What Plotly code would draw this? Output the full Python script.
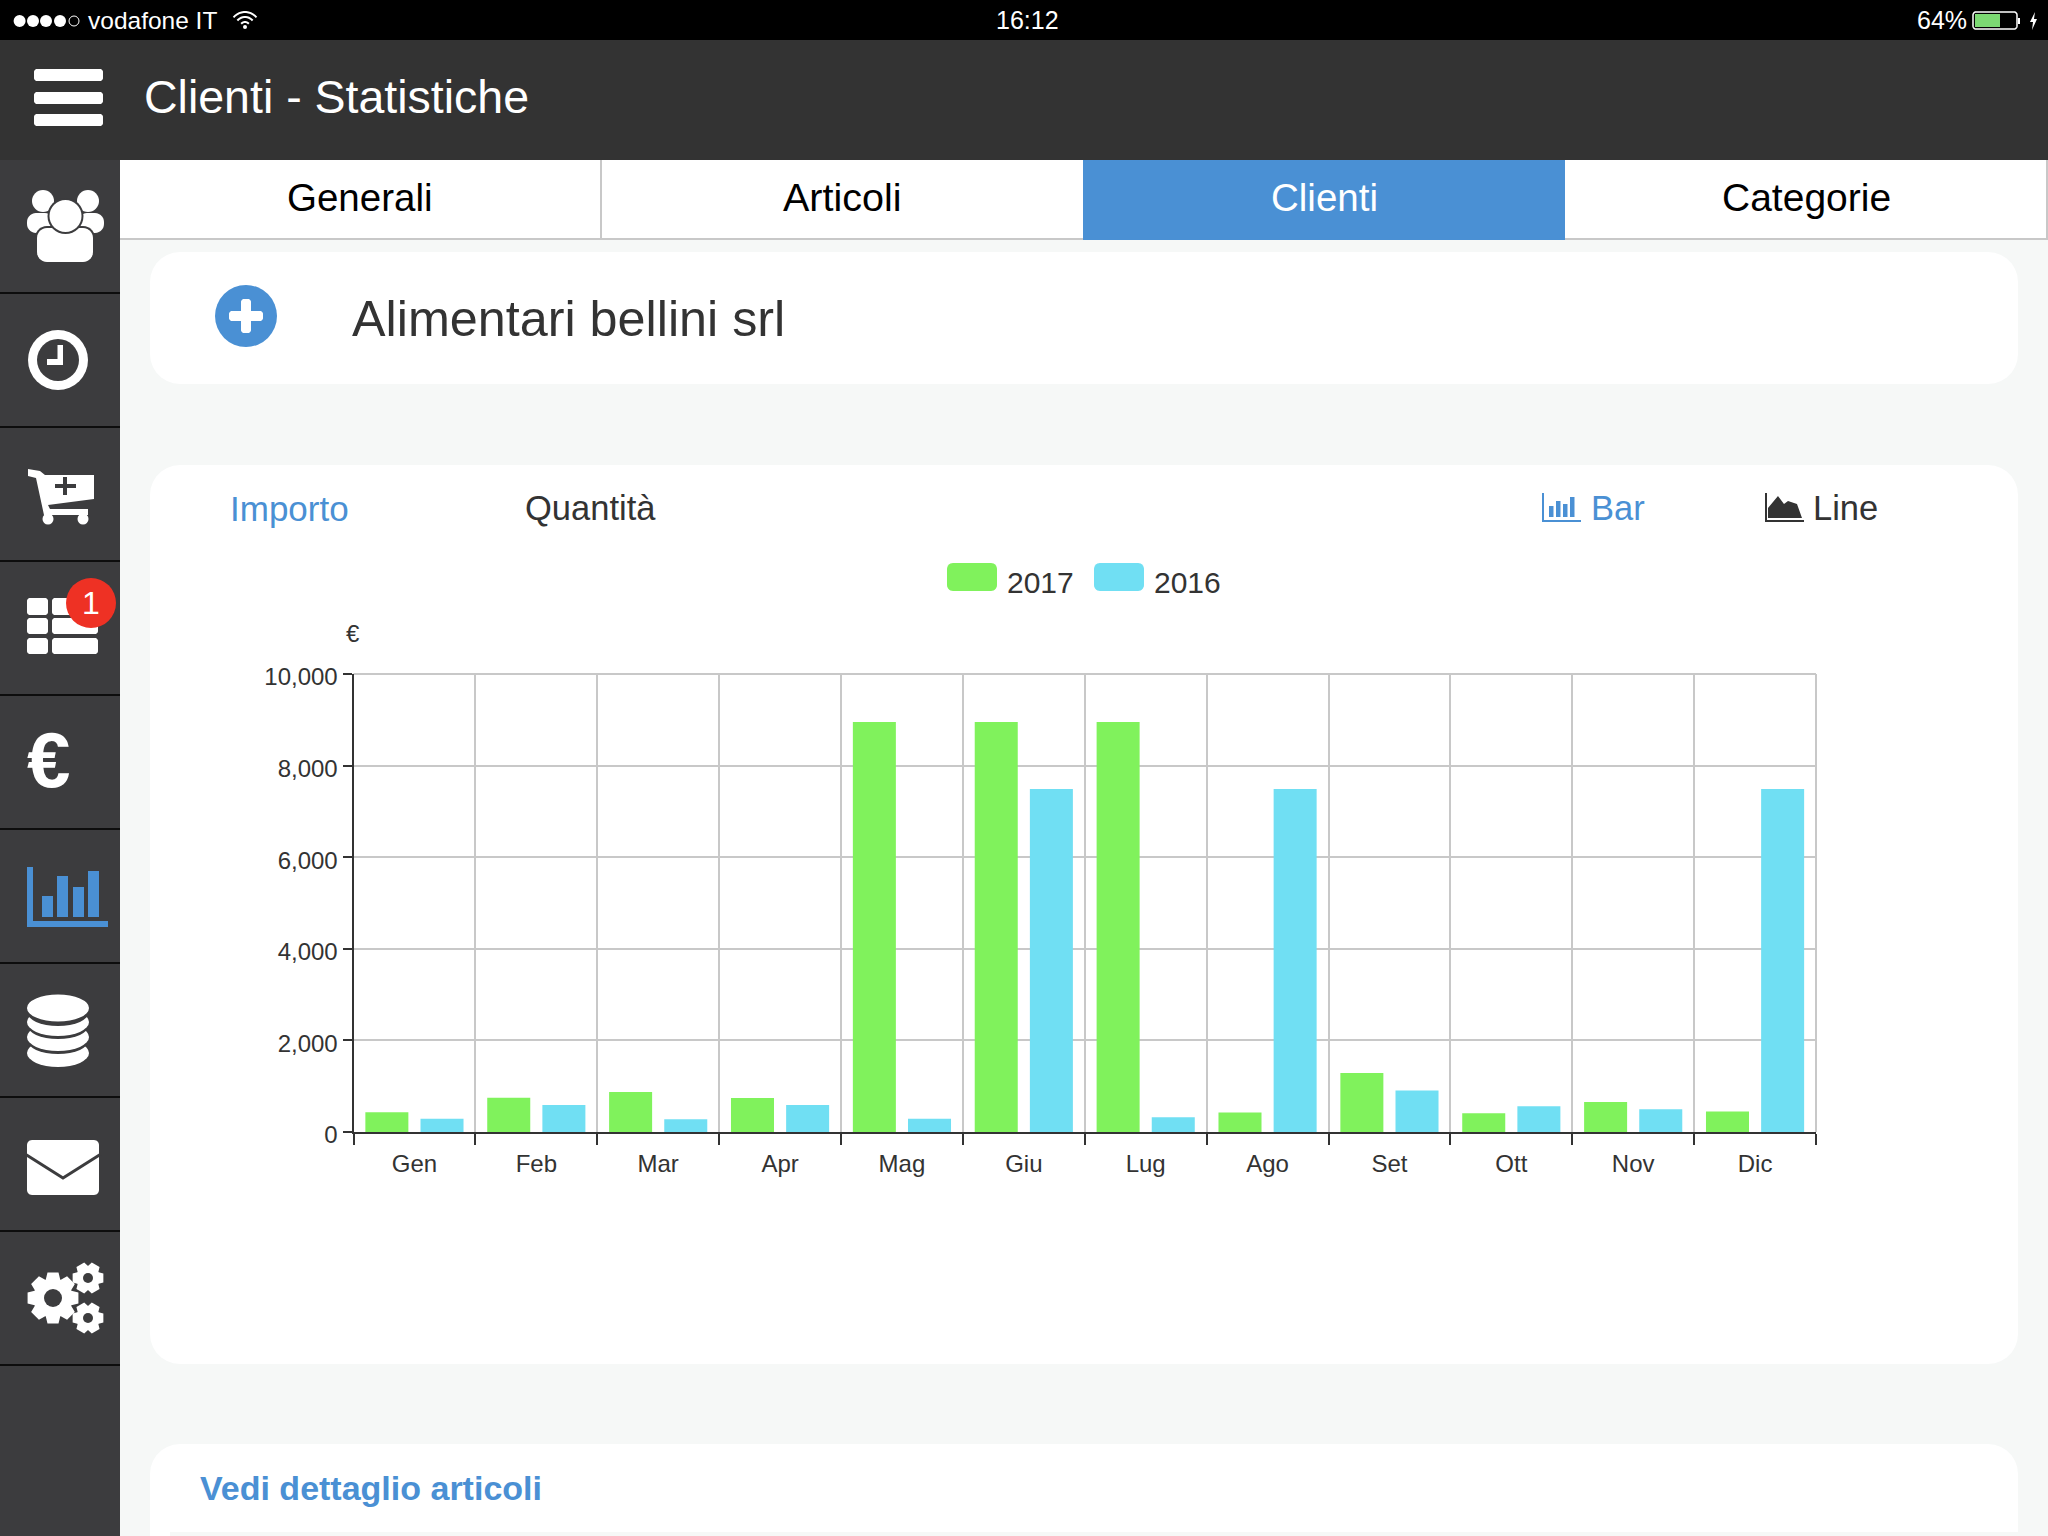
import numpy as np
import plotly.graph_objects as go

W, H = 2048, 1536
FONT = "Liberation Sans"
DARK = "#333333"
SIDE = "#3c3c3e"
BLUE = "#4a90d4"
GREEN = "#80f25c"
CYAN = "#70dff3"
PAGE = "#f6f8f7"

mesi = ["Gen", "Feb", "Mar", "Apr", "Mag", "Giu", "Lug", "Ago", "Set", "Ott", "Nov", "Dic"]
y2017 = [430, 750, 875, 740, 8950, 8950, 8950, 425, 1290, 410, 655, 450]
y2016 = [290, 590, 280, 590, 290, 7490, 320, 7490, 905, 560, 495, 7490]


# screen pixels -> paper coordinates, everything in the app chrome is placed in pixels
def px(x):
    return x / W


def py(y):
    return 1 - y / H


shapes = []
annotations = []


def path(d, color, line=None, lw=0):
    shapes.append(dict(type="path", path=d, xref="paper", yref="paper", layer="below",
                       fillcolor=color if color else "rgba(0,0,0,0)",
                       line=dict(color=line or "rgba(0,0,0,0)", width=lw)))


def poly(pts, color, closed=True, line=None, lw=0):
    d = "M " + " L ".join(f"{px(x):.5f},{py(y):.5f}" for x, y in pts)
    path(d + (" Z" if closed else ""), color, line, lw)


def rect(x0, y0, x1, y1, color):
    shapes.append(dict(type="rect", xref="paper", yref="paper", layer="below",
                       x0=px(x0), x1=px(x1), y0=py(y1), y1=py(y0),
                       fillcolor=color, line=dict(width=0)))


def rrect(x0, y0, x1, y1, r, color, line=None, lw=0):
    pts = []
    corners = [(x1 - r, y0 + r, -90), (x1 - r, y1 - r, 0), (x0 + r, y1 - r, 90), (x0 + r, y0 + r, 180)]
    for cx, cy, start in corners:
        for a in np.radians(np.linspace(start, start + 90, 8)):
            pts.append((cx + r * np.cos(a), cy + r * np.sin(a)))
    poly(pts, color, line=line, lw=lw)


def ellipse(cx, cy, rx, ry, color, line=None, lw=0):
    shapes.append(dict(type="circle", xref="paper", yref="paper", layer="below",
                       x0=px(cx - rx), x1=px(cx + rx), y0=py(cy + ry), y1=py(cy - ry),
                       fillcolor=color if color else "rgba(0,0,0,0)",
                       line=dict(color=line or "rgba(0,0,0,0)", width=lw)))


def gear(cx, cy, r, hole, teeth, color, back):
    pts = []
    step = 2 * np.pi / teeth
    for i in range(teeth):
        a = i * step
        for da, rr in [(-0.30, 0.76), (-0.17, 1.0), (0.17, 1.0), (0.30, 0.76)]:
            pts.append((cx + r * rr * np.cos(a + da * step * 1.6), cy + r * rr * np.sin(a + da * step * 1.6)))
    poly(pts, color)
    ellipse(cx, cy, hole, hole, back)


def text(x, y, s, size, color=DARK, anchor="left", bold=False):
    annotations.append(dict(x=px(x), y=py(y), xref="paper", yref="paper", text=f"<b>{s}</b>" if bold else s,
                            showarrow=False, xanchor=anchor, yanchor="middle", borderpad=0, borderwidth=0,
                            font=dict(family=FONT, size=size, color=color)))


# status bar and header
rect(0, 0, W, 40, "#000000")
rect(0, 40, W, 160, DARK)
for i, cx in enumerate([19.6, 33, 46, 60, 74]):
    if i < 4:
        ellipse(cx, 21, 6, 6, "#ffffff")
    else:
        ellipse(cx, 21, 5, 5, None, "#ffffff", 1)
text(88, 20, "vodafone IT", 24.5, "#ffffff")
for r, w in [(15, 2), (10, 2), (5, 2)]:
    a = np.radians(np.linspace(-140, -40, 12))
    poly([(245 + r * np.cos(t), 27 + r * np.sin(t)) for t in a], None, closed=False, line="#ffffff", lw=w)
ellipse(245, 27, 2, 2, "#ffffff")
text(1027, 20, "16:12", 25, "#ffffff", "center")
text(1917, 20, "64%", 25, "#ffffff")
rrect(1973, 12, 2017, 29, 3, None, "#ffffff", 1.5)
rect(1975, 14, 2000, 27, "#7cd973")
rect(2018, 18, 2020, 24, "#ffffff")
poly([(2035, 12), (2030, 22), (2033, 22), (2032, 30), (2037, 19), (2034, 19)], "#ffffff")
for y0 in (69, 92, 114):
    rrect(34, y0, 103, y0 + 12, 3, "#ffffff")
text(144, 97, "Clienti - Statistiche", 46.5, "#ffffff")

# sidebar
rect(0, 160, 120, H, SIDE)
for y in (293, 427, 561, 695, 829, 963, 1097, 1231, 1365):
    rect(0, y - 1, 120, y + 1, "#0d0d0d")

# users
rrect(27, 213, 54, 233, 9, "#ffffff")
rrect(78, 213, 104, 233, 9, "#ffffff")
ellipse(43, 201, 11, 11, "#ffffff")
ellipse(88, 201, 11, 11, "#ffffff")
rrect(35, 226, 95, 264, 12, SIDE)
rrect(37, 228, 93, 262, 10, "#ffffff")
ellipse(65.5, 216, 18, 18, SIDE)
ellipse(65.5, 216, 16, 16, "#ffffff")
# clock
ellipse(58, 360, 30, 30, "#ffffff")
ellipse(58, 360, 21, 21, SIDE)
rect(57.5, 345, 63, 365, "#ffffff")
rect(47, 359, 63, 365, "#ffffff")
# cart
poly([(28, 469), (40, 471), (45, 475), (94, 475), (94, 499), (48, 505), (50, 509), (88, 509), (88, 515),
      (44, 515), (36, 478), (28, 476)], "#ffffff")
rect(55, 484, 76, 488, SIDE)
rect(63, 477, 67, 495, SIDE)
ellipse(48, 519, 5.5, 5.5, "#ffffff")
ellipse(83, 519, 5.5, 5.5, "#ffffff")
# table with badge
for y0, y1 in [(598, 615), (618, 634), (638, 654)]:
    rrect(27, y0, 48, y1, 3, "#ffffff")
    rrect(52, y0, 98, y1, 3, "#ffffff")
ellipse(91, 603, 25, 25, "#ee3124")
text(91, 603, "1", 32, "#ffffff", "center")
text(48, 760, "€", 78, "#ffffff", "center", bold=True)
# chart icon
rect(27, 867, 33, 927, BLUE)
rect(27, 921, 108, 927, BLUE)
for x0, y0 in [(42, 896), (57, 876), (73, 887), (88, 871)]:
    rect(x0, y0, x0 + 11, 917, BLUE)
# database
ellipse(58, 1053, 31, 14, "#ffffff")
for cy in (1037, 1022):
    ellipse(58, cy + 3, 31, 14, SIDE)
    ellipse(58, cy, 31, 14, "#ffffff")
ellipse(58, 1012, 31, 14, SIDE)
ellipse(58, 1008, 31, 13.5, "#ffffff")
# mail
rrect(27, 1140, 99, 1195, 5, "#ffffff")
poly([(25, 1154), (63, 1178), (101, 1154)], None, closed=False, line=SIDE, lw=3)
# gears
gear(53, 1298, 26, 9, 8, "#ffffff", SIDE)
gear(88, 1278, 16, 5, 6, "#ffffff", SIDE)
gear(88, 1318, 16, 5, 6, "#ffffff", SIDE)

# tabs
rect(120, 160, W, 238, "#ffffff")
rect(120, 238, W, 240, "#c8c8c8")
rect(600, 160, 602, 240, "#c8c8c8")
rect(1083, 160, 1565, 240, BLUE)
rect(2046, 160, 2048, 240, "#c8c8c8")
text(360, 197, "Generali", 38.5, "#000000", "center")
text(842, 197, "Articoli", 39.5, "#000000", "center")
text(1324, 197, "Clienti", 38.5, "#ffffff", "center")
text(1806, 197, "Categorie", 39, "#000000", "center")

# cards
rrect(150, 252, 2018, 384, 30, "#ffffff")
rrect(150, 465, 2018, 1364, 30, "#ffffff")
rrect(150, 1444, 2018, 1590, 30, "#ffffff")
rect(170, 1532, 2018, 1536, PAGE)
ellipse(246, 316, 31, 31, BLUE)
rrect(229, 311, 263, 321, 3, "#ffffff")
rrect(241, 299, 251, 333, 3, "#ffffff")
text(352, 319, "Alimentari bellini srl", 50.3)
text(230, 508, "Importo", 35, BLUE)
text(525, 508, "Quantità", 34.5)
text(1591, 508, "Bar", 34.5, BLUE)
text(1813, 508, "Line", 34.5)
text(200, 1488, "Vedi dettaglio articoli", 34, BLUE, bold=True)

# Bar / Line toggles
rect(1542, 493, 1544, 522, BLUE)
rect(1542, 520, 1581, 522, BLUE)
for x0, y0 in [(1549, 506), (1556, 501), (1563, 504), (1570, 497)]:
    rect(x0, y0, x0 + 4.5, 517, BLUE)
rect(1765, 493, 1767, 522, DARK)
rect(1765, 520, 1804, 522, DARK)
poly([(1768, 518), (1768, 508), (1778, 496), (1784, 504), (1788, 501), (1797, 504), (1802, 518)], DARK)

# legend
rrect(947, 563, 997, 591, 6, GREEN)
rrect(1094, 563, 1144, 591, 6, CYAN)
text(1007, 582, "2017", 30)
text(1154, 582, "2016", 30)
text(353, 633, "€", 24, DARK, "center")

# plotly leaves out the gridlines on the far edges of the plot
for x0, x1, y0, y1 in [(0, 1, 1, 1), (1, 1, 0, 1)]:
    shapes.append(dict(type="line", xref="x domain", yref="y domain", x0=x0, x1=x1, y0=y0, y1=y1,
                       layer="below", line=dict(color="#c8c8c8", width=2)))

fig = go.Figure()
fig.add_trace(go.Bar(x=mesi, y=y2017, name="2017", marker=dict(color=GREEN, line_width=0)))
fig.add_trace(go.Bar(x=mesi, y=y2016, name="2016", marker=dict(color=CYAN, line_width=0)))

fig.update_layout(
    width=W, height=H, margin=dict(l=0, r=0, t=0, b=0),
    paper_bgcolor=PAGE, plot_bgcolor="#ffffff",
    barmode="group", bargap=0.095, bargroupgap=0.22,
    showlegend=False,
    font=dict(family=FONT, color=DARK, size=24),
    shapes=shapes, annotations=annotations,
    xaxis=dict(domain=[px(353.5), px(1816)], range=[-0.5, 11.5], type="category", tickson="boundaries",
               automargin=False, showgrid=True, gridcolor="#c8c8c8", gridwidth=2,
               showline=True, linecolor=DARK, linewidth=2, ticklabelstandoff=9,
               ticks="outside", ticklen=11, tickwidth=2, tickcolor=DARK, zeroline=False),
    yaxis=dict(domain=[py(1132), py(674)], range=[0, 10000], tick0=0, dtick=2000, tickformat=",",
               automargin=False, showgrid=True, gridcolor="#c8c8c8", gridwidth=2,
               showline=True, linecolor=DARK, linewidth=2, ticklabelshift=3,
               ticks="outside", ticklen=9, tickwidth=2, tickcolor=DARK, zeroline=False),
)

fig.write_html("out.html", config={"displayModeBar": False},
               post_script="document.body.style.margin='0';document.body.style.overflow='hidden';")
